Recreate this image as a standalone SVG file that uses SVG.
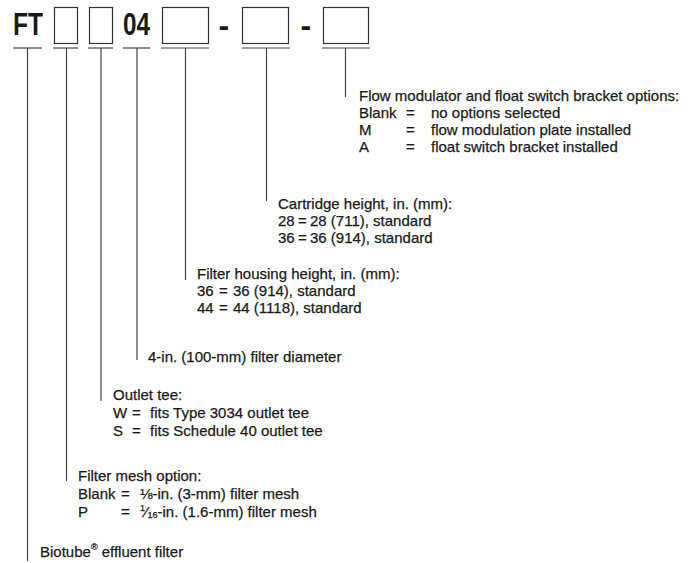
<svg xmlns="http://www.w3.org/2000/svg" width="696" height="563" viewBox="0 0 696 563">
<style>
  .big{font-family:"Liberation Sans",Arial,sans-serif;font-weight:bold;font-size:32px;fill:#1a1a1a}
  .t{font-family:"Liberation Sans",Arial,sans-serif;font-size:15px;fill:#1a1a1a;stroke:#1a1a1a;stroke-width:0.25}
  .box{fill:none;stroke:#333;stroke-width:1.2}
  .ln{stroke:#444;stroke-width:1.2;fill:none}
  .fr{font-size:9px}
</style>
<rect width="696" height="563" fill="#fff"/>

<g id="model-code">
  <text class="big" x="13" y="35" textLength="30" lengthAdjust="spacingAndGlyphs">FT</text>
  <rect id="box-mesh" class="box" x="54.5" y="7.5" width="23" height="36"/>
  <rect id="box-tee" class="box" x="89.5" y="7.5" width="23" height="36"/>
  <text class="big" x="123" y="35" textLength="27" lengthAdjust="spacingAndGlyphs">04</text>
  <rect id="box-housing" class="box" x="162.5" y="7.5" width="46" height="36"/>
  <text class="big" x="218.5" y="36">-</text>
  <rect id="box-cartridge" class="box" x="242.5" y="7.5" width="46" height="36"/>
  <text class="big" x="300.5" y="36">-</text>
  <rect id="box-options" class="box" x="323.5" y="7.5" width="45" height="36"/>
</g>

<g id="connectors">
  <line class="ln" x1="13" y1="48" x2="42" y2="48"/>
  <line class="ln" x1="53" y1="48" x2="78" y2="48"/>
  <line class="ln" x1="88" y1="48" x2="113" y2="48"/>
  <line class="ln" x1="123" y1="48" x2="150" y2="48"/>
  <line class="ln" x1="161" y1="48" x2="209" y2="48"/>
  <line class="ln" x1="242" y1="48" x2="290" y2="48"/>
  <line class="ln" x1="322" y1="48" x2="370" y2="48"/>
  <line class="ln" x1="345.5" y1="48" x2="345.5" y2="97"/>
  <line class="ln" x1="266.5" y1="48" x2="266.5" y2="201"/>
  <line class="ln" x1="185.5" y1="48" x2="185.5" y2="280"/>
  <line class="ln" x1="137" y1="48" x2="137" y2="360"/>
  <line class="ln" x1="101" y1="48" x2="101" y2="401"/>
  <line class="ln" x1="66.5" y1="48" x2="66.5" y2="481"/>
  <line class="ln" x1="27.5" y1="48" x2="27.5" y2="561"/>
</g>

<g id="label-options">
  <text class="t" x="359" y="101">Flow modulator and float switch bracket options:</text>
  <text class="t" y="118"><tspan x="359">Blank</tspan><tspan x="406">=</tspan><tspan x="431">no options selected</tspan></text>
  <text class="t" y="135"><tspan x="359">M</tspan><tspan x="406">=</tspan><tspan x="431">flow modulation plate installed</tspan></text>
  <text class="t" y="152"><tspan x="359">A</tspan><tspan x="406">=</tspan><tspan x="431">float switch bracket installed</tspan></text>
</g>

<g id="label-cartridge">
  <text class="t" x="278" y="209">Cartridge height, in. (mm):</text>
  <text class="t" y="226"><tspan x="278">28</tspan><tspan x="298">=</tspan><tspan x="310">28 (711), standard</tspan></text>
  <text class="t" y="243"><tspan x="278">36</tspan><tspan x="298">=</tspan><tspan x="310">36 (914), standard</tspan></text>
</g>

<g id="label-housing">
  <text class="t" x="197" y="279">Filter housing height, in. (mm):</text>
  <text class="t" y="296"><tspan x="197">36</tspan><tspan x="219">=</tspan><tspan x="233">36 (914), standard</tspan></text>
  <text class="t" y="313"><tspan x="197">44</tspan><tspan x="219">=</tspan><tspan x="233">44 (1118), standard</tspan></text>
</g>

<g id="label-diameter">
  <text class="t" x="148" y="362">4-in. (100-mm) filter diameter</text>
</g>

<g id="label-tee">
  <text class="t" x="113" y="400">Outlet tee:</text>
  <text class="t" y="418"><tspan x="113">W</tspan><tspan x="132">=</tspan><tspan x="150">fits Type 3034 outlet tee</tspan></text>
  <text class="t" y="436"><tspan x="113">S</tspan><tspan x="132">=</tspan><tspan x="150">fits Schedule 40 outlet tee</tspan></text>
</g>

<g id="label-mesh">
  <text class="t" x="78" y="481">Filter mesh option:</text>
  <text class="t" y="499"><tspan x="78">Blank</tspan><tspan x="121">=</tspan><tspan x="140">⅛-in. (3-mm) filter mesh</tspan></text>
  <text class="t" y="517"><tspan x="78">P</tspan><tspan x="121">=</tspan><tspan x="140" y="511" class="fr">1</tspan><tspan y="517">⁄</tspan><tspan class="fr" y="518">16</tspan><tspan y="517">-in. (1.6-mm) filter mesh</tspan></text>
</g>

<g id="label-biotube">
  <text class="t" x="40" y="557">Biotube<tspan class="fr" y="550">®</tspan><tspan y="557"> effluent filter</tspan></text>
</g>
</svg>
